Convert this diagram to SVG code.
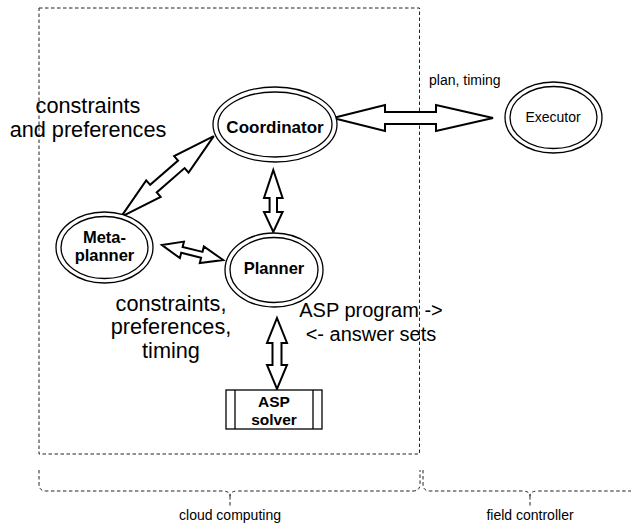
<svg xmlns="http://www.w3.org/2000/svg" width="631" height="529" viewBox="0 0 631 529">
  <style>
    .dash { fill: none; stroke: #222; stroke-width: 1; stroke-dasharray: 3.5 2.5; }
    .ell { fill: #fff; stroke: #000; stroke-width: 1.3; }
    .arr { fill: #fff; stroke: #000; stroke-width: 2; stroke-linejoin: miter; }
    .node { font-family: "Liberation Sans", Arial, Helvetica, sans-serif; font-weight: bold; font-size: 16.5px; text-anchor: middle; fill: #000; }
    .lbl { font-family: "Liberation Sans", Arial, Helvetica, sans-serif; fill: #000; text-anchor: middle; }
    .box { fill: #fff; stroke: #000; stroke-width: 1.3; }
  </style>
  <rect width="631" height="529" fill="#fff"/>

  <g id="regions">
    <rect class="dash" x="39" y="8" width="380.5" height="446"/>
    <path class="dash" d="M39,470 L39,484 Q39,491 46,491 L222,491 Q230,491 230,496 Q230,491 238,491 L413,491 Q420,491 420,484 L420,470 M230,496 L230,506"/>
    <path class="dash" d="M423,470 L423,484 Q423,491 430,491 L522,491 Q530,491 530,496 Q530,491 538,491 L640,491 M530,496 L530,506"/>
    <text class="lbl" x="230" y="519.5" font-size="14">cloud computing</text>
    <text class="lbl" x="530" y="519.5" font-size="14">field controller</text>
  </g>

  <g id="connectors">
    <polygon class="arr" points="333,118 385,105 385,112 436,112 436,105 493,118 436,131 436,124 385,124 385,131"/>
    <polygon class="arr" points="273.3,170 282.6,198 277,198 277,212 282.6,212 273.3,232 264,212 269.6,212 269.6,198 264,198"/>
    <polygon class="arr" points="277,318 287,343 281.5,343 281.5,365 287,365 277,389 267,365 272.5,365 272.5,343 267,343"/>
    <polygon class="arr" transform="translate(122,218) rotate(-41.05) translate(0,-1.5)" points="0,0 43,-11 43,-5 80,-5 80,-11 123,0 80,11 80,5 43,5 43,11"/>
    <polygon class="arr" transform="translate(162,245) rotate(13.8)" points="0,0 20.5,-8.5 20.5,-3 41,-3 41,-8.5 63,0 41,8.5 41,3 20.5,3 20.5,8.5"/>
    <text class="lbl" x="429" y="85" font-size="14" style="text-anchor:start">plan, timing</text>
    <text class="lbl" x="88" y="113" font-size="21.7">constraints</text>
    <text class="lbl" x="88" y="137" font-size="21.7">and preferences</text>
    <text class="lbl" x="171" y="310.5" font-size="21.7">constraints,</text>
    <text class="lbl" x="171" y="334" font-size="21.7">preferences,</text>
    <text class="lbl" x="171" y="357.5" font-size="21.7">timing</text>
    <text class="lbl" x="371" y="317" font-size="20">ASP program -&gt;</text>
    <text class="lbl" x="371" y="341" font-size="20">&lt;- answer sets</text>
  </g>

  <g id="coordinator">
    <ellipse class="ell" cx="275" cy="124.5" rx="62" ry="37.5"/>
    <ellipse class="ell" cx="275" cy="124.5" rx="57" ry="32.5"/>
    <text class="node" x="275" y="132.5" style="font-size:17px">Coordinator</text>
  </g>

  <g id="executor">
    <ellipse class="ell" cx="553.5" cy="117.5" rx="48.5" ry="35.5"/>
    <ellipse class="ell" cx="553.5" cy="117.5" rx="43.5" ry="31"/>
    <text class="lbl" x="553" y="122" font-size="14">Executor</text>
  </g>

  <g id="metaplanner">
    <ellipse class="ell" cx="104.5" cy="247.5" rx="48.5" ry="35.5"/>
    <ellipse class="ell" cx="104.5" cy="247.5" rx="43.5" ry="31"/>
    <text class="node" x="104.5" y="243"><tspan x="104.5" y="243">Meta-</tspan><tspan x="104.5" y="261">planner</tspan></text>
  </g>

  <g id="planner">
    <ellipse class="ell" cx="274" cy="270" rx="49" ry="37"/>
    <ellipse class="ell" cx="274" cy="270" rx="44" ry="32.5"/>
    <text class="node" x="274" y="274">Planner</text>
  </g>

  <g id="asp-solver">
    <rect class="box" x="226" y="390" width="96" height="39"/>
    <line class="box" x1="235" y1="390" x2="235" y2="429"/>
    <line class="box" x1="313" y1="390" x2="313" y2="429"/>
    <text class="node" x="274" y="407" style="font-size:15.5px"><tspan x="274" y="407">ASP</tspan><tspan x="274" y="424.5">solver</tspan></text>
  </g>
</svg>
